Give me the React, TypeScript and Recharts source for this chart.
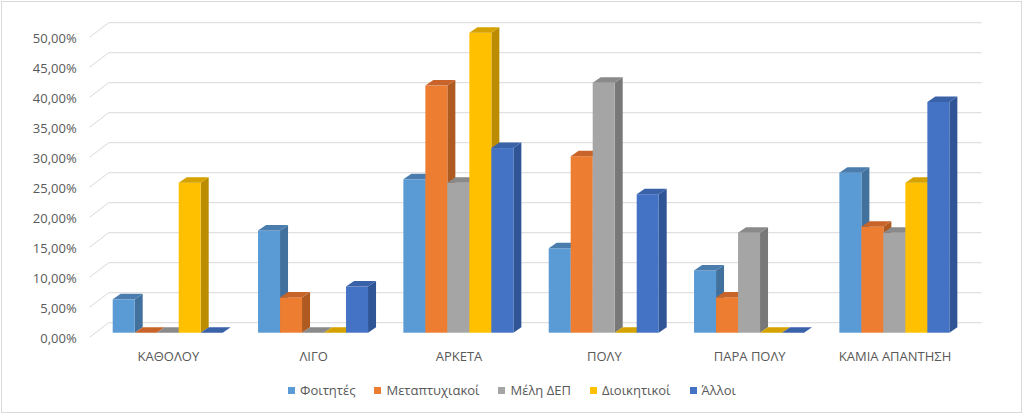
import React from 'react'
import { Bar, BarChart, CartesianGrid, Legend, XAxis, YAxis } from 'recharts'

const categories = ['ΚΑΘΟΛΟΥ', 'ΛΙΓΟ', 'ΑΡΚΕΤΑ', 'ΠΟΛΥ', 'ΠΑΡΑ ΠΟΛΥ', 'ΚΑΜΙΑ ΑΠΑΝΤΗΣΗ']
const students = [0.0556, 0.1704, 0.2556, 0.1407, 0.1037, 0.2667]
const postgrads = [0, 0.0588, 0.4118, 0.2941, 0.0588, 0.1765]
const faculty = [0, 0, 0.25, 0.4167, 0.1667, 0.1667]
const admin = [0.25, 0, 0.5, 0, 0, 0.25]
const others = [0, 0.0769, 0.3077, 0.2308, 0, 0.3846]
const yTicks = [0, 0.05, 0.1, 0.15, 0.2, 0.25, 0.3, 0.35, 0.4, 0.45, 0.5]

const series = [
  { key: 's', name: 'Φοιτητές', values: students, front: '#5B9BD5', side: '#41719C', top: '#4A7DAE' },
  { key: 'p', name: 'Μεταπτυχιακοί', values: postgrads, front: '#ED7D31', side: '#AE5A21', top: '#C8642A' },
  { key: 'f', name: 'Μέλη ΔΕΠ', values: faculty, front: '#A5A5A5', side: '#787878', top: '#8A8A8A' },
  { key: 'a', name: 'Διοικητικοί', values: admin, front: '#FFC000', side: '#BC8C00', top: '#D6A200' },
  { key: 'o', name: 'Άλλοι', values: others, front: '#4472C4', side: '#2F5597', top: '#3A62A8' },
]

const data = categories.map((name, i) => {
  const row: any = { name }
  series.forEach((s) => (row[s.key] = s.values[i]))
  return row
})

const FONT = '"Open Sans", sans-serif'
const TEXT = '#595959'
const GRID = '#d9d9d9'
const DX = 8
const DY = 5.5

const Box3D = (props: any) => {
  const { x, y, width, height, front, side, top } = props
  if (x == null || y == null) return null
  const h = Math.max(0, height || 0)
  const topFace = `${x},${y} ${x + DX},${y - DY} ${x + width + DX},${y - DY} ${x + width},${y}`
  const sideFace = `${x + width},${y} ${x + width + DX},${y - DY} ${x + width + DX},${y + h - DY} ${x + width},${y + h}`
  return (
    <g>
      {h > 0 && <polygon points={sideFace} fill={side} />}
      {h > 0 && <rect x={x} y={y} width={width} height={h} fill={front} />}
      <polygon points={topFace} fill={top} />
    </g>
  )
}

const pct = (v: number) => (v * 100).toFixed(2).replace('.', ',') + '%'

const YTick = (p: any) => (
  <text x={p.x - 19} y={p.y + 10} textAnchor='end' fill={TEXT} fontSize={13} fontFamily={FONT}>
    {pct(p.payload.value)}
  </text>
)

const XTick = (p: any) => (
  <text x={p.x} y={p.y + 28} textAnchor='middle' fill={TEXT} fontSize={13} fontFamily={FONT}>
    {p.payload.value}
  </text>
)

const GridLine = (p: any) => (
  <g key={`g-${p.index}`}>
    <line x1={p.x1 - 6} y1={p.y1 + 4.5} x2={p.x1 + 13} y2={p.y1 - 10} stroke={GRID} strokeWidth={1} />
    <line x1={p.x1 + 13} y1={p.y1 - 10} x2={p.x2 + 14} y2={p.y1 - 10} stroke={GRID} strokeWidth={1} />
  </g>
)

const LegendContent = () => (
  <div style={{ display: 'flex', justifyContent: 'center', gap: 19, fontFamily: FONT, fontSize: 13, color: TEXT, lineHeight: '20px' }}>
    {series.map((s) => (
      <div key={s.key} style={{ display: 'flex', alignItems: 'center' }}>
        <span style={{ width: 7, height: 7, background: s.front, marginRight: 5, display: 'inline-block' }} />
        <span>{s.name}</span>
      </div>
    ))}
  </div>
)

export default function App() {
  return (
    <div style={{ position: 'absolute', left: 0, top: 0, width: 1024, height: 415, background: '#fff' }}>
      <BarChart
        width={1024}
        height={415}
        data={data}
        margin={{ top: 32.7, right: 56.3, bottom: 52.3, left: 0 }}
        barCategoryGap={17}
        barGap={0}
      >
        <CartesianGrid vertical={false} horizontal={GridLine} />
        <XAxis dataKey='name' axisLine={false} tickLine={false} tickSize={0} tickMargin={0} height={30} tick={<XTick />} interval={0} />
        <YAxis
          domain={[0, 0.5]}
          ticks={yTicks}
          axisLine={false}
          tickLine={false}
          tickSize={0}
          tickMargin={0}
          width={95.7}
          tick={<YTick />}
        />
        <Legend layout='horizontal' verticalAlign='middle' align='center' wrapperStyle={{ top: 380, left: 0, width: 1024 }} content={<LegendContent />} />
        {series.map((s) => (
          <Bar
            key={s.key}
            dataKey={s.key}
            name={s.name}
            fill={s.front}
            isAnimationActive={false}
            shape={(p: any) => <Box3D {...p} front={s.front} side={s.side} top={s.top} />}
          />
        ))}
      </BarChart>
      <div style={{ position: 'absolute', left: 1, top: 1, width: 1019, height: 410, border: `1px solid ${GRID}`, pointerEvents: 'none' }} />
    </div>
  )
}
